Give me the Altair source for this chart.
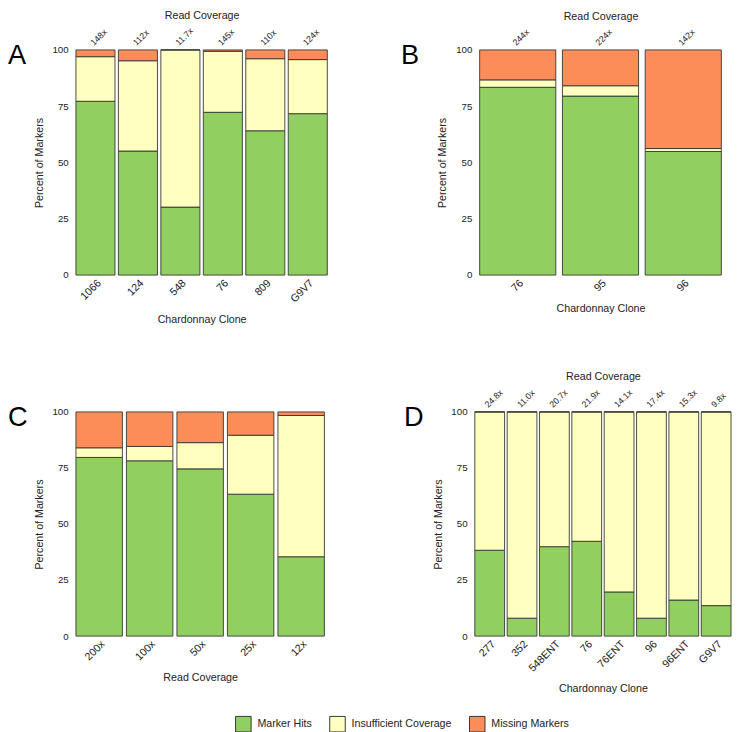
import altair as alt
import pandas as pd

FONT = "Liberation Sans"
categories = ["Marker Hits", "Insufficient Coverage", "Missing Markers"]
colors = ["#91cf60", "#ffffbf", "#fc8d59"]

# Panel A
a_clones = ["1066", "124", "548", "76", "809", "G9V7"]
a_cov = ["148x", "112x", "11.7x", "145x", "110x", "124x"]
a_hits = [77.2, 55.1, 30.2, 72.3, 64.1, 71.7]
a_insuff = [19.8, 40.1, 69.8, 27.1, 32.0, 24.0]
a_missing = [3.0, 4.8, 0.0, 0.6, 3.9, 4.3]

# Panel B
b_clones = ["76", "95", "96"]
b_cov = ["244x", "224x", "142x"]
b_hits = [83.4, 79.5, 54.9]
b_insuff = [3.3, 4.6, 1.3]
b_missing = [13.3, 15.9, 43.8]

# Panel C
c_levels = ["200x", "100x", "50x", "25x", "12x"]
c_hits = [79.7, 78.2, 74.6, 63.3, 35.4]
c_insuff = [4.3, 6.4, 11.7, 26.3, 63.0]
c_missing = [16.0, 15.4, 13.7, 10.4, 1.6]

# Panel D
d_clones = ["277", "352", "548ENT", "76", "76ENT", "96", "96ENT", "G9V7"]
d_cov = ["24.8x", "11.0x", "20.7x", "21.9x", "14.1x", "17.4x", "15.3x", "9.8x"]
d_hits = [38.3, 8.0, 39.9, 42.3, 19.7, 8.0, 16.1, 13.6]
d_insuff = [61.7, 92.0, 60.1, 57.7, 80.3, 92.0, 83.9, 86.4]
d_missing = [0.0, 0.0, 0.0, 0.0, 0.0, 0.0, 0.0, 0.0]


def long_df(xs, hits, insuff, missing):
    rows = []
    for i, x in enumerate(xs):
        for j, vals in enumerate([hits, insuff, missing]):
            rows.append({"x": x, "cat": categories[j], "ord": j, "val": vals[i]})
    return pd.DataFrame(rows)


def panel(letter, xs, hits, insuff, missing, xtitle, cov, w, h, letter_dx):
    df = long_df(xs, hits, insuff, missing)
    bars = alt.Chart(df).mark_bar(stroke="#333333", strokeWidth=0.9).encode(
        x=alt.X("x:N", sort=xs, title=xtitle,
                scale=alt.Scale(paddingInner=0.08, paddingOuter=0),
                axis=alt.Axis(labelAngle=-45, labelFontSize=11, titlePadding=10)),
        y=alt.Y("val:Q", stack="zero", scale=alt.Scale(domain=[0, 100]),
                axis=alt.Axis(values=[0, 25, 50, 75, 100], title="Percent of Markers",
                              labelPadding=8, titlePadding=8)),
        color=alt.Color("cat:N", scale=alt.Scale(domain=categories, range=colors), title=None),
        order=alt.Order("ord:Q"),
    )
    layers = [bars]
    if cov is not None:
        top = alt.Chart(pd.DataFrame({"cov": cov})).mark_tick(opacity=0).encode(
            x=alt.X("cov:N", sort=cov, title="Read Coverage",
                    scale=alt.Scale(paddingInner=0.08, paddingOuter=0),
                    axis=alt.Axis(orient="top", labelAngle=-45, labelFontSize=9,
                                  labelPadding=3, titlePadding=6)),
        )
        layers.append(top)
    lab = alt.Chart(pd.DataFrame({"t": [letter]})).mark_text(
        fontSize=28, font=FONT, align="left", baseline="alphabetic", color="#000"
    ).encode(text="t:N", x=alt.value(letter_dx), y=alt.value(15))
    layers.append(lab)
    return alt.layer(*layers).resolve_scale(x="independent").properties(width=w, height=h)


pa = panel("A", a_clones, a_hits, a_insuff, a_missing, "Chardonnay Clone", a_cov, 259, 232, -70)
pb = panel("B", b_clones, b_hits, b_insuff, b_missing, "Chardonnay Clone", b_cov, 249, 232, -81)
pc = panel("C", c_levels, c_hits, c_insuff, c_missing, "Read Coverage", None, 256, 231, -70)
pd_ = panel("D", d_clones, d_hits, d_insuff, d_missing, "Chardonnay Clone", d_cov, 264, 231, -73)

row1 = alt.hconcat(pa, pb, spacing=75)
row2 = alt.hconcat(pc, pd_, spacing=81)

chart = alt.vconcat(row1, row2, spacing=48).properties(
    padding={"left": 0, "top": -10, "right": 0, "bottom": 0}
).configure_view(strokeWidth=0).configure_axis(
    domain=False, ticks=False, grid=False,
    labelFont=FONT, titleFont=FONT, labelColor="#222", titleColor="#222",
    titleFontSize=11, titleFontWeight="normal",
).configure_legend(
    orient="none", legendX=164, legendY=686, direction="horizontal",
    symbolType="square", symbolSize=256, symbolStrokeColor="#333333",
    symbolStrokeWidth=1, labelFont=FONT, labelFontSize=11,
    labelColor="#222", columnPadding=15, labelOffset=6,
)

chart.save("out.html", embed_options={"renderer": "svg", "actions": False})
